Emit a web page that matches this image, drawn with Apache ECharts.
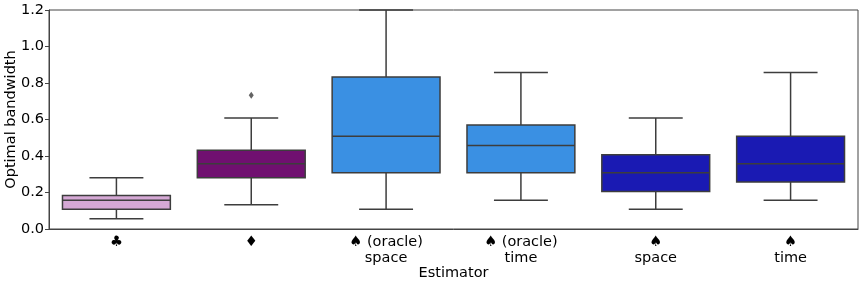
<!DOCTYPE html>
<html><head><meta charset="utf-8">
<script src="https://cdn.jsdelivr.net/npm/echarts@6/dist/echarts.min.js"></script>
<style>html,body{margin:0;padding:0;background:#fff}#c{width:863px;height:286px}</style>
</head><body><div id="c"></div>
<script>
const categories = ['\u2663', '\u2666', '\u2660 (oracle)\nspace', '\u2660 (oracle)\ntime', '\u2660\nspace', '\u2660\ntime'];
const whiskerLow = [0.056, 0.133, 0.108, 0.157, 0.108, 0.157];
const q1 =         [0.108, 0.281, 0.308, 0.308, 0.206, 0.258];
const median =     [0.157, 0.358, 0.508, 0.458, 0.308, 0.358];
const q3 =         [0.183, 0.431, 0.833, 0.570, 0.407, 0.508];
const whiskerHigh= [0.281, 0.608, 1.200, 0.858, 0.608, 0.858];
const boxColors =  ['#d5a8d5', '#701070', '#3a90e3', '#3a90e3', '#1a1ab3', '#1a1ab3'];
const outliers = [[1, 0.733]];
const yTicks = [0, 0.2, 0.4, 0.6, 0.8, 1.0, 1.2];

const FONT = 'DejaVu Sans';
const FS = 14.5;
const LINE = '#3d3d3d';
const data = categories.map((c, i) => [i, whiskerLow[i], q1[i], median[i], q3[i], whiskerHigh[i]]);

const chart = echarts.init(document.getElementById('c'), null, {renderer: 'canvas'});
chart.setOption({
  animation: false,
  backgroundColor: '#fff',
  grid: {left: 49, right: 5, top: 10, bottom: 57, show: true, borderColor: '#444', borderWidth: 1,
    containLabel: false, outerBoundsMode: 'none'},
  xAxis: {
    type: 'category', data: categories, boundaryGap: true,
    name: 'Estimator', nameLocation: 'middle', nameGap: 37, nameMoveOverlap: false,
    nameTextStyle: {fontFamily: FONT, fontSize: FS, color: '#000'},
    axisLine: {lineStyle: {color: '#444'}},
    axisTick: {alignWithLabel: true, length: 4, lineStyle: {color: '#444'}},
    axisLabel: {fontFamily: FONT, fontSize: FS, color: '#000', margin: 5, lineHeight: 16, interval: 0}
  },
  yAxis: {
    type: 'value', min: 0, max: 1.2, interval: 0.2,
    name: 'Optimal bandwidth', nameLocation: 'middle', nameGap: 30, nameMoveOverlap: false,
    nameTextStyle: {fontFamily: FONT, fontSize: FS, color: '#000'},
    axisLine: {show: true, lineStyle: {color: '#444'}},
    axisTick: {show: true, length: 4, lineStyle: {color: '#444'}},
    splitLine: {show: false},
    axisLabel: {fontFamily: FONT, fontSize: FS, color: '#000', margin: 5,
      formatter: v => yTicks.some(t => Math.abs(t - v) < 1e-9) ? v.toFixed(1) : ''}
  },
  series: [{
    type: 'custom',
    data: data,
    encode: {x: 0, y: [1, 2, 3, 4, 5]},
    renderItem: function (params, api) {
      const i = api.value(0);
      const bw = api.size([1, 0])[0] * 0.8;
      const cx = api.coord([i, 0])[0];
      const yLo = api.coord([i, api.value(1)])[1];
      const yQ1 = api.coord([i, api.value(2)])[1];
      const yMed = api.coord([i, api.value(3)])[1];
      const yQ3 = api.coord([i, api.value(4)])[1];
      const yHi = api.coord([i, api.value(5)])[1];
      const ls = {stroke: LINE, lineWidth: 1.5};
      const cap = bw / 4;
      return {
        type: 'group',
        children: [
          {type: 'line', shape: {x1: cx, y1: yQ1, x2: cx, y2: yLo}, style: ls},
          {type: 'line', shape: {x1: cx, y1: yQ3, x2: cx, y2: yHi}, style: ls},
          {type: 'line', shape: {x1: cx - cap, y1: yLo, x2: cx + cap, y2: yLo}, style: ls},
          {type: 'line', shape: {x1: cx - cap, y1: yHi, x2: cx + cap, y2: yHi}, style: ls},
          {type: 'rect', shape: {x: cx - bw / 2, y: yQ3, width: bw, height: yQ1 - yQ3},
            style: {fill: boxColors[i], stroke: LINE, lineWidth: 1.5}},
          {type: 'line', shape: {x1: cx - bw / 2, y1: yMed, x2: cx + bw / 2, y2: yMed}, style: ls}
        ]
      };
    }
  }, {
    type: 'scatter',
    data: outliers,
    symbol: 'diamond',
    symbolSize: [5, 7],
    itemStyle: {color: LINE}
  }]
});
</script></body></html>
